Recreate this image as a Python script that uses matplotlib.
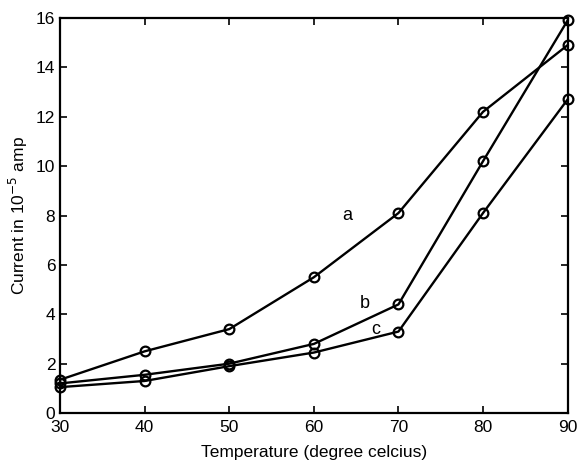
import matplotlib.pyplot as plt

plt.rcParams['font.family'] = ['Liberation Sans', 'DejaVu Sans']

temperature = [30, 40, 50, 60, 70, 80, 90]
current_a = [1.35, 2.5, 3.4, 5.5, 8.1, 12.2, 14.9]
current_b = [1.2, 1.55, 2.0, 2.8, 4.4, 10.2, 15.9]
current_c = [1.05, 1.3, 1.9, 2.45, 3.3, 8.1, 12.7]

fig = plt.figure(figsize=(5.78, 4.61), dpi=100)
ax = fig.add_axes([0.104, 0.104, 0.878, 0.857])

for series in (current_a, current_b, current_c):
    ax.plot(temperature, series, color='black', lw=1.7, marker='o',
            markersize=7, markerfacecolor='none', markeredgewidth=1.6,
            clip_on=False)

ax.text(64, 8.0, 'a', fontsize=13, ha='center', va='center')
ax.text(66, 4.45, 'b', fontsize=13, ha='center', va='center')
ax.text(67.3, 3.4, 'c', fontsize=13, ha='center', va='center')

ax.set_xlim(30, 90)
ax.set_ylim(0, 16)
ax.set_xticks(range(30, 91, 10))
ax.set_yticks(range(0, 17, 2))
ax.tick_params(direction='in', top=True, right=True, labelsize=12.5, width=1.2, length=5)
ax.tick_params(axis='x', pad=5)
for s in ax.spines.values():
    s.set_linewidth(1.6)

ax.set_xlabel('Temperature (degree celcius)', fontsize=12.5, labelpad=7)
ax.set_ylabel('Current in 10$^{-5}$ amp', fontsize=12.5)

fig.savefig('out.png')
